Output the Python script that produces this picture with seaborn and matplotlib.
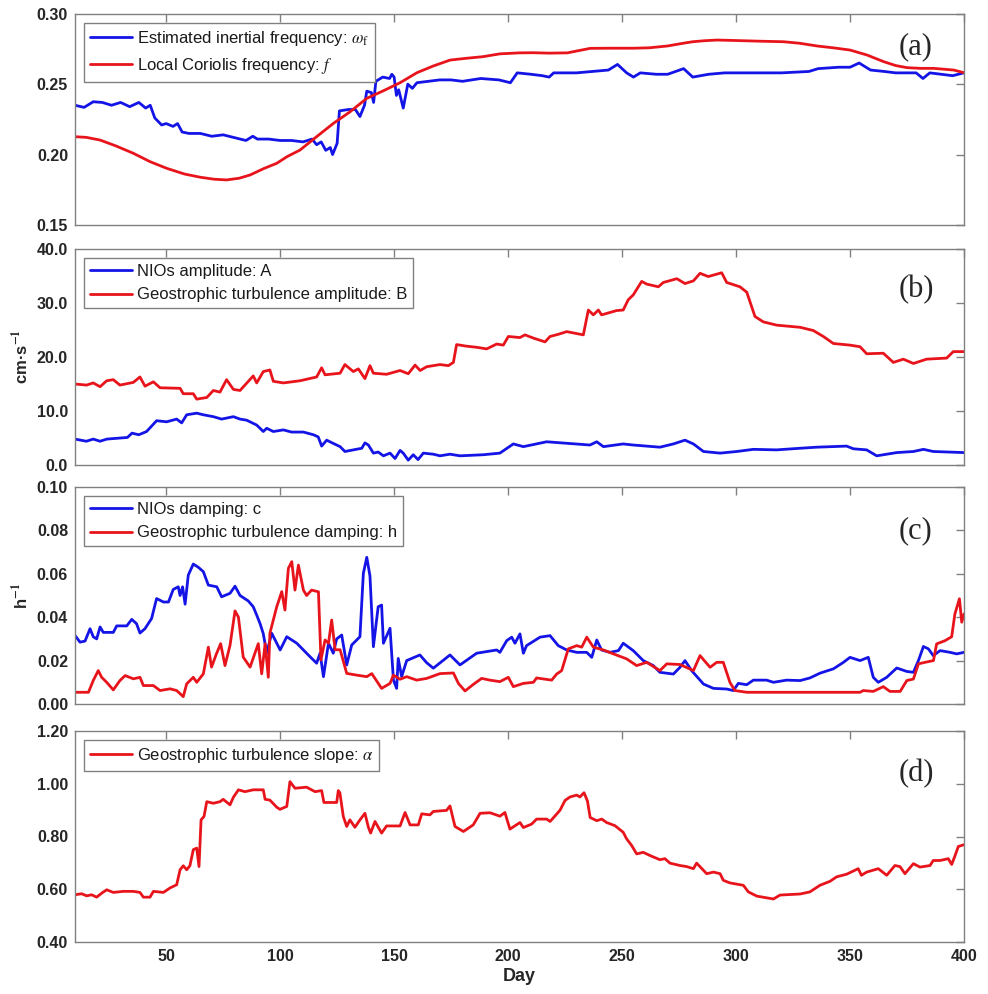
import numpy as np
import pandas as pd
import matplotlib
matplotlib.use("Agg")
import matplotlib.pyplot as plt
import seaborn as sns

# ---------------- data (day, value) ----------------
omega_f = [(10,0.235),(14,0.2335),(18,0.2375),(22,0.237),(26,0.235),(30,0.237),(34,0.234),(38,0.237),(41,0.233),
           (43,0.235),(45,0.226),(48,0.221),(50,0.222),(53,0.220),(55,0.222),(57,0.216),(60,0.215),(65,0.215),
           (70,0.213),(75,0.214),(80,0.212),(85,0.210),(88,0.213),(90,0.211),(95,0.211),(100,0.210),(105,0.210),
           (110,0.209),(114,0.211),(116,0.207),(118,0.209),(120,0.203),(122,0.205),(123,0.200),(125,0.208),
           (126,0.231),(130,0.232),(133,0.232),(135,0.227),(137,0.235),(138,0.245),(140,0.244),(141,0.237),
           (142,0.252),(145,0.255),(148,0.254),(149,0.257),(150,0.255),(151,0.242),(152,0.246),(154,0.233),
           (156,0.250),(158,0.247),(160,0.251),(165,0.252),(170,0.253),(175,0.253),(180,0.252),(188,0.254),
           (196,0.253),(201,0.251),(204,0.258),(210,0.257),(215,0.256),(218,0.255),(220,0.258),(230,0.258),
           (237,0.259),(244,0.260),(248,0.264),(252,0.258),(255,0.255),(258,0.258),(265,0.257),(270,0.257),
           (277,0.261),(281,0.255),(288,0.257),(295,0.258),(300,0.258),(310,0.258),(320,0.258),(332,0.259),
           (336,0.261),(345,0.262),(350,0.262),(354,0.265),(359,0.260),(365,0.259),(370,0.258),(379,0.258),
           (382,0.254),(385,0.258),(390,0.257),(395,0.256),(400,0.258)]

coriolis_f = [(10,0.2127),(15,0.2122),(21,0.2103),(28,0.2061),(35.6,0.2009),(43,0.1949),(50.3,0.1902),(58,0.1862),
              (65,0.1839),(71,0.1825),(76.5,0.1820),(82,0.1832),(86.8,0.1855),(93,0.1902),(98.5,0.1938),
              (103,0.1985),(108.7,0.2032),(116,0.2127),(123.4,0.2222),(130.7,0.2304),(138,0.2399),(145.3,0.2453),
              (152.6,0.2510),(160,0.2581),(167.2,0.2629),(174.6,0.2671),(182,0.2684),(189,0.2695),(196.4,0.2715),
              (205,0.2722),(211,0.2723),(218,0.2720),(226,0.2722),(236,0.2754),(245,0.2755),(255,0.2755),
              (262,0.2758),(270,0.2771),(276,0.2788),(281,0.2801),(286,0.2808),(291.6,0.2813),(299,0.2810),
              (310,0.2805),(320.8,0.2801),(328,0.2790),(335.5,0.2771),(343,0.2757),(350,0.2742),(357.4,0.2707),
              (364.7,0.2660),(370,0.2632),(375,0.2617),(381,0.2612),(386.7,0.2612),(395.5,0.2600),(400,0.2581)]

amp_A = [(10,4.8),(15,4.4),(18,4.8),(21,4.4),(24,4.8),(33,5.1),(35,5.9),(38,5.6),(41.4,6.2),(45.8,8.2),(50.2,8.0),
         (54.6,8.5),(56.8,7.8),(59,9.3),(63.4,9.6),(66.3,9.3),(70.7,8.95),(74.3,8.5),(79.5,8.95),(82.4,8.5),
         (85.3,8.3),(89.7,7.4),(92.6,6.2),(94.1,6.8),(97,6.2),(101.4,6.5),(105,6.1),(110.2,6.1),(114.6,5.6),
         (116.7,5.2),(117.5,4.3),(118.2,3.5),(120.4,4.6),(123.3,4.0),(126.3,3.4),(128.4,2.5),(132.1,2.8),
         (135.8,3.1),(137.2,4.1),(138.7,3.7),(140.9,2.2),(143,2.4),(145.3,1.7),(148.2,2.2),(150.4,1.2),
         (152.6,2.7),(154,2.2),(156.2,0.9),(158.4,1.9),(160.5,1.0),(162.8,2.2),(167.2,2.0),(170.1,1.7),
         (174.5,2.0),(178.9,1.7),(189.1,1.9),(196.4,2.2),(202.3,3.9),(206.7,3.4),(216.9,4.3),(235.9,3.7),
         (238.9,4.3),(241.8,3.4),(250.5,3.9),(254.9,3.7),(266.6,3.3),(272.5,3.9),(277.6,4.6),(281.3,3.9),
         (285.7,2.5),(293,2.2),(300.3,2.5),(307.6,2.9),(317.8,2.8),(328.1,3.1),(335.4,3.3),(348.5,3.5),
         (351.5,3.0),(357.3,2.8),(361.7,1.7),(370.5,2.3),(377.8,2.5),(382.2,2.9),(386.5,2.5),(400,2.3)]

amp_B = [(10,15.0),(15.1,14.8),(18,15.2),(21,14.5),(23.9,15.6),(26.8,15.8),(29.7,14.8),(35.6,15.3),(38.5,16.3),
         (40.7,14.6),(44.4,15.4),(47.3,14.3),(56.1,14.2),(57.5,13.2),(61.9,13.2),(63.4,12.2),(67.8,12.5),
         (70.7,13.8),(73.6,13.5),(76.5,15.8),(79.5,14.0),(82.4,13.8),(88.2,16.5),(89.7,15.2),(92.6,17.3),
         (95.5,17.6),(97,15.5),(101.4,15.2),(108.7,15.6),(116,16.3),(118.2,18.0),(119.7,16.7),(126.3,17.0),
         (128.4,18.6),(132.1,17.3),(134.3,17.8),(137.2,16.0),(139.4,18.4),(140.9,17.0),(146.7,16.8),
         (152.6,17.5),(156.2,16.9),(159.2,18.5),(161.4,17.5),(164.3,18.2),(170.1,18.6),(173.8,18.4),(176,19.0),
         (177.4,22.3),(181.8,22.0),(186.2,21.8),(190.6,21.5),(195,22.4),(197.9,22.2),(200.1,23.8),(205.2,23.6),
         (207.4,24.1),(211.1,23.5),(216.2,22.8),(218.4,23.8),(222,24.2),(225.7,24.7),(233,24.1),(235.2,28.7),
         (237.4,27.8),(239.6,28.7),(241,27.8),(247.6,28.6),(250.5,28.7),(252.7,30.6),(254.9,31.5),(258.6,34.0),
         (260.8,33.5),(265.9,33.0),(268.1,33.8),(274,34.5),(277.6,33.6),(281.3,34.1),(284.2,35.5),(287.8,34.9),
         (293.7,35.6),(295.9,33.8),(301.7,33.0),(304.7,32.0),(308.3,27.5),(312,26.5),(317.8,25.9),(328.1,25.5),
         (333.9,24.9),(338.3,23.8),(342.7,22.5),(350,22.2),(354.4,21.9),(357.3,20.6),(364.6,20.7),(369,19.0),
         (373.4,19.6),(377.8,18.8),(383.6,19.6),(392.4,19.8),(395.3,21.0),(400,21.0)]

damp_c = [(10,0.0316),(12.2,0.0285),(14.4,0.029),(16.6,0.0347),(18,0.031),(19.5,0.030),(21,0.0355),(22.4,0.033),
          (26.8,0.033),(28.3,0.036),(32.7,0.036),(34.9,0.039),(37,0.037),(38.5,0.0327),(40.7,0.0347),(43.6,0.0394),
          (45.8,0.0486),(48.8,0.047),(51,0.047),(53.1,0.0528),(55.3,0.054),(56.1,0.050),(57.2,0.054),(58.3,0.046),
          (59.7,0.0594),(61.9,0.0645),(64.1,0.063),(66.3,0.061),(68.5,0.0548),(72.2,0.054),(74.3,0.0494),(78,0.051),
          (80.2,0.0543),(82.4,0.050),(86,0.0475),(88.2,0.0448),(89.7,0.041),(91.2,0.037),(92.6,0.0324),(94.1,0.0235),
          (96.3,0.0326),(100,0.0249),(102.9,0.031),(107.3,0.028),(113.1,0.0218),(116,0.0188),(117.5,0.0234),
          (119,0.0126),(121.2,0.028),(123.3,0.0234),(124.8,0.030),(127,0.0318),(129.2,0.018),(131.4,0.0272),
          (135,0.031),(136.5,0.0602),(138,0.0676),(139.4,0.059),(140.9,0.0264),(143,0.0448),(144.5,0.0456),
          (145.3,0.028),(148.2,0.0349),(149.7,0.011),(151.1,0.0072),(151.8,0.021),(153.3,0.0126),(155.5,0.020),
          (161.3,0.0226),(164.3,0.019),(167.2,0.0165),(174.5,0.0226),(178.9,0.018),(186.2,0.0234),(195,0.0249),
          (196.4,0.0238),(199.4,0.0292),(201.6,0.0308),(203,0.028),(205.2,0.0323),(206.7,0.0234),(208.1,0.0269),
          (214,0.0308),(218.4,0.0315),(222,0.0269),(225.7,0.0249),(230.1,0.0238),(234.5,0.0238),(236.7,0.0215),
          (238.9,0.0295),(241,0.0249),(244.7,0.0238),(248.4,0.0246),(250.5,0.028),(254.9,0.0246),(259.3,0.020),
          (263.7,0.0177),(266.6,0.0146),(272.5,0.0138),(275.4,0.0169),(277.6,0.020),(280.5,0.0154),(285.7,0.0092),
          (290.1,0.0072),(295.9,0.0069),(298.8,0.0062),(301,0.0095),(304.7,0.0089),(307.6,0.011),(313.4,0.011),
          (316.4,0.010),(322.2,0.011),(328.1,0.0108),(332.4,0.012),(336.8,0.0142),(342.7,0.0162),(347.1,0.0192),
          (350,0.0215),(354.4,0.020),(358,0.0215),(360.2,0.0123),(362.4,0.010),(366.1,0.0123),(370.5,0.0166),
          (374.9,0.015),(377.8,0.0146),(380,0.020),(382.2,0.0265),(384.4,0.0254),(386.5,0.0223),(389.5,0.0246),
          (393.9,0.0238),(396.8,0.0231),(400,0.0238)]

damp_h = [(10,0.0054),(15.9,0.0054),(18,0.0108),(20.2,0.0154),(21.7,0.0123),(23.9,0.010),(26.8,0.0065),(29.7,0.0108),
          (32,0.0131),(35.6,0.0116),(38.5,0.0123),(40,0.0085),(44.4,0.0085),(47.3,0.0062),(51.7,0.007),(54.6,0.0062),
          (57.5,0.0034),(59,0.0093),(61.9,0.0123),(63.4,0.010),(66.3,0.0139),(68.5,0.0262),(69.9,0.017),(72,0.023),
          (73.9,0.0278),(75.8,0.0177),(78,0.027),(80.2,0.0429),(81.7,0.040),(83.8,0.0216),(86.8,0.017),(90.4,0.0278),
          (91.9,0.0139),(93.4,0.0278),(94.8,0.0123),(95.5,0.0326),(98.5,0.0448),(100.7,0.0518),(102.1,0.0433),
          (103.6,0.0625),(105.1,0.0656),(106.5,0.0525),(108,0.064),(110.2,0.0525),(111.6,0.050),(113.8,0.0525),
          (116.8,0.0517),(117.9,0.0203),(119.7,0.0295),(121.2,0.028),(122.6,0.0387),(124.1,0.025),(126.3,0.025),
          (129.2,0.0141),(133.6,0.0133),(138,0.0126),(140.2,0.014),(144.5,0.0072),(148.2,0.0095),(149.7,0.0133),
          (152.6,0.0114),(155.5,0.0126),(159.9,0.011),(164.3,0.0118),(170.1,0.014),(176,0.0143),(178.2,0.0095),
          (181.1,0.006),(184.7,0.009),(188.4,0.0118),(192,0.011),(196.4,0.0103),(200.1,0.0123),(202.3,0.008),
          (206.7,0.0095),(211.1,0.010),(212.5,0.012),(219.1,0.011),(221.3,0.0138),(223.5,0.0154),(226.4,0.0254),
          (230.1,0.0269),(232.3,0.0262),(234.5,0.0308),(237.4,0.0262),(241.8,0.0249),(246.2,0.0231),(252,0.0208),
          (256.4,0.0177),(260.8,0.0192),(266.6,0.0154),(269.6,0.0185),(275.4,0.0182),(281.3,0.0154),(284.2,0.0223),
          (288.6,0.0169),(291.5,0.0192),(294.4,0.0192),(297.3,0.010),(299.5,0.0062),(304.7,0.0054),(354.4,0.0054),
          (355.8,0.0062),(360.2,0.0058),(364.6,0.008),(367.5,0.0058),(372,0.0058),(374.9,0.0108),(377.8,0.0115),
          (380,0.0185),(382.9,0.0192),(386.6,0.020),(388,0.0277),(391.7,0.0292),(394.6,0.031),(396,0.0415),
          (398,0.0485),(399,0.0377),(400,0.0415)]

slope_alpha = [(10,0.579),(12.9,0.583),(15.1,0.575),(17.3,0.579),(19.5,0.570),(21.7,0.585),(23.9,0.598),(26.8,0.588),
               (31.2,0.592),(35.6,0.592),(38.5,0.588),(40,0.570),(42.9,0.570),(44.4,0.592),(48.8,0.588),(51.7,0.605),
               (54.6,0.617),(56.1,0.674),(57.5,0.689),(59,0.674),(60.4,0.689),(61.9,0.750),(63.4,0.756),(64.4,0.686),
               (65.3,0.863),(66.6,0.876),(67.8,0.932),(70.7,0.926),(73.6,0.932),(75,0.941),(78,0.920),(79.5,0.949),
               (81.7,0.977),(84.6,0.970),(88.2,0.977),(92.6,0.977),(93.4,0.941),(95.5,0.938),(98.5,0.911),(99.9,0.903),
               (102.9,0.914),(104.3,1.008),(106.5,0.983),(111.6,0.987),(115.3,0.970),(118.2,0.974),(119.2,0.929),
               (124.8,0.929),(125.5,0.974),(126.2,0.966),(127.7,0.876),(129.2,0.838),(130.6,0.863),(132.8,0.835),
               (135,0.863),(137.2,0.888),(138.7,0.835),(139.7,0.813),(141.6,0.857),(144.5,0.813),(146.7,0.840),
               (152.6,0.840),(154.8,0.891),(157,0.844),(160.6,0.844),(162.1,0.886),(165.7,0.882),(167.2,0.895),
               (173,0.899),(174.5,0.916),(176.7,0.838),(180.4,0.819),(184.7,0.844),(187.7,0.888),(192.1,0.890),
               (196.4,0.877),(198.6,0.891),(200.8,0.828),(205.2,0.853),(206.7,0.834),(210.3,0.847),(212.5,0.866),
               (216.9,0.866),(218.4,0.857),(220.6,0.878),(222.8,0.900),(225,0.937),(227.2,0.950),(230.1,0.957),
               (231.5,0.950),(233.3,0.966),(234.8,0.935),(236,0.872),(238.9,0.860),(241.1,0.866),(243.2,0.853),
               (246.9,0.841),(250.5,0.816),(252,0.791),(254.2,0.766),(256.4,0.734),(259.3,0.740),(262.2,0.728),
               (266.6,0.712),(268.8,0.716),(271,0.699),(275.4,0.690),(278.3,0.686),(281.3,0.678),(282.7,0.699),
               (287.1,0.659),(290.1,0.665),(293,0.659),(294.4,0.634),(297.3,0.624),(303.2,0.615),(305.4,0.590),
               (309.1,0.574),(314.9,0.565),(316.4,0.563),(319.3,0.578),(328.1,0.582),(332.4,0.590),(336.8,0.615),
               (341.2,0.630),(344.1,0.647),(348.5,0.657),(353.6,0.678),(355,0.653),(357.3,0.665),(362.4,0.678),
               (366.1,0.653),(369.7,0.690),(371.9,0.686),(374.1,0.659),(377.8,0.697),(380.7,0.684),(385.1,0.690),
               (386.5,0.709),(389.5,0.709),(393.1,0.716),(394.6,0.694),(396.1,0.728),(397.5,0.762),(400,0.769)]

x_ticks = [50, 100, 150, 200, 250, 300, 350, 400]
yticks_a = [0.15, 0.20, 0.25, 0.30]
yticks_b = [0.0, 10.0, 20.0, 30.0, 40.0]
yticks_c = [0.00, 0.02, 0.04, 0.06, 0.08, 0.10]
yticks_d = [0.40, 0.60, 0.80, 1.00, 1.20]
panel_labels = ["(a)", "(b)", "(c)", "(d)"]

# ---------------- style ----------------
sns.set_style("white")
plt.rcParams['font.family'] = ['Liberation Sans', 'DejaVu Sans']
plt.rcParams['mathtext.fontset'] = 'stix'

BLUE = '#1414e6'
RED = '#e8141c'
GRAY = '#808080'

fig = plt.figure(figsize=(9.88, 9.94), dpi=100)
L, W = 75/988, 889/988
rects = [(L, 1-225/994, W, 211.3/994),
         (L, 1-465/994, W, 216/994),
         (L, 1-704/994, W, 217/994),
         (L, 1-942/994, W, 211/994)]
axes = [fig.add_axes(r) for r in rects]

def to_df(pairs, name):
    d = pd.DataFrame(pairs, columns=["day", "value"])
    d["series"] = name
    return d

panels = [
    [(omega_f, "Estimated inertial frequency: $\\omega_\\mathrm{f}$", BLUE),
     (coriolis_f, "Local Coriolis frequency: $f$", RED)],
    [(amp_A, "NIOs amplitude: A", BLUE),
     (amp_B, "Geostrophic turbulence amplitude: B", RED)],
    [(damp_c, "NIOs damping: c", BLUE),
     (damp_h, "Geostrophic turbulence damping: h", RED)],
    [(slope_alpha, "Geostrophic turbulence slope: $\\alpha$", RED)],
]
yticks_all = [yticks_a, yticks_b, yticks_c, yticks_d]
fmts = ["%.2f", "%.1f", "%.2f", "%.2f"]
label_y = [0.845, 0.81, 0.80, 0.80]

for i, ax in enumerate(axes):
    for pairs, lab, col in panels[i]:
        df = to_df(pairs, lab)
        sns.lineplot(data=df, x="day", y="value", ax=ax, color=col, linewidth=2.0,
                     label=lab, estimator=None, sort=False)
    yt = yticks_all[i]
    ax.set_xlim(10, 400)
    ax.set_ylim(yt[0], yt[-1])
    ax.set_yticks(yt)
    ax.set_yticklabels([fmts[i] % v for v in yt])
    ax.set_xticks(x_ticks)
    ax.tick_params(axis='both', which='both', direction='in', length=6, width=1,
                   color=GRAY, top=True, right=True, labelsize=11.5, pad=5)
    for lbl in ax.get_yticklabels() + ax.get_xticklabels():
        lbl.set_fontweight('bold')
        lbl.set_color('#262626')
    for s in ax.spines.values():
        s.set_color(GRAY)
        s.set_linewidth(1.0)
    ax.set_xlabel("")
    ax.set_ylabel("")
    if i < 3:
        ax.set_xticklabels([])
    leg = ax.legend(loc='upper left', fontsize=12, frameon=True, fancybox=False,
                    framealpha=1, edgecolor=GRAY, handlelength=2.5, handletextpad=0.3,
                    labelspacing=0.5, borderpad=0.35, borderaxespad=0.55)
    leg.get_frame().set_linewidth(1.0)
    for t in leg.get_texts():
        t.set_color('#1a1a1a')
    ax.text(0.946, label_y[i], panel_labels[i], transform=ax.transAxes, ha='center', va='center',
            fontsize=22, family='Liberation Serif')

axes[1].set_ylabel("cm·s$^{\\mathbf{-1}}$", fontsize=12, fontweight='bold', labelpad=4)
axes[2].set_ylabel("h$^{\\mathbf{-1}}$", fontsize=12, fontweight='bold', labelpad=4)
axes[3].set_xlabel("Day", fontsize=13, fontweight='bold', labelpad=3)

fig.savefig("out.png", dpi=100)
